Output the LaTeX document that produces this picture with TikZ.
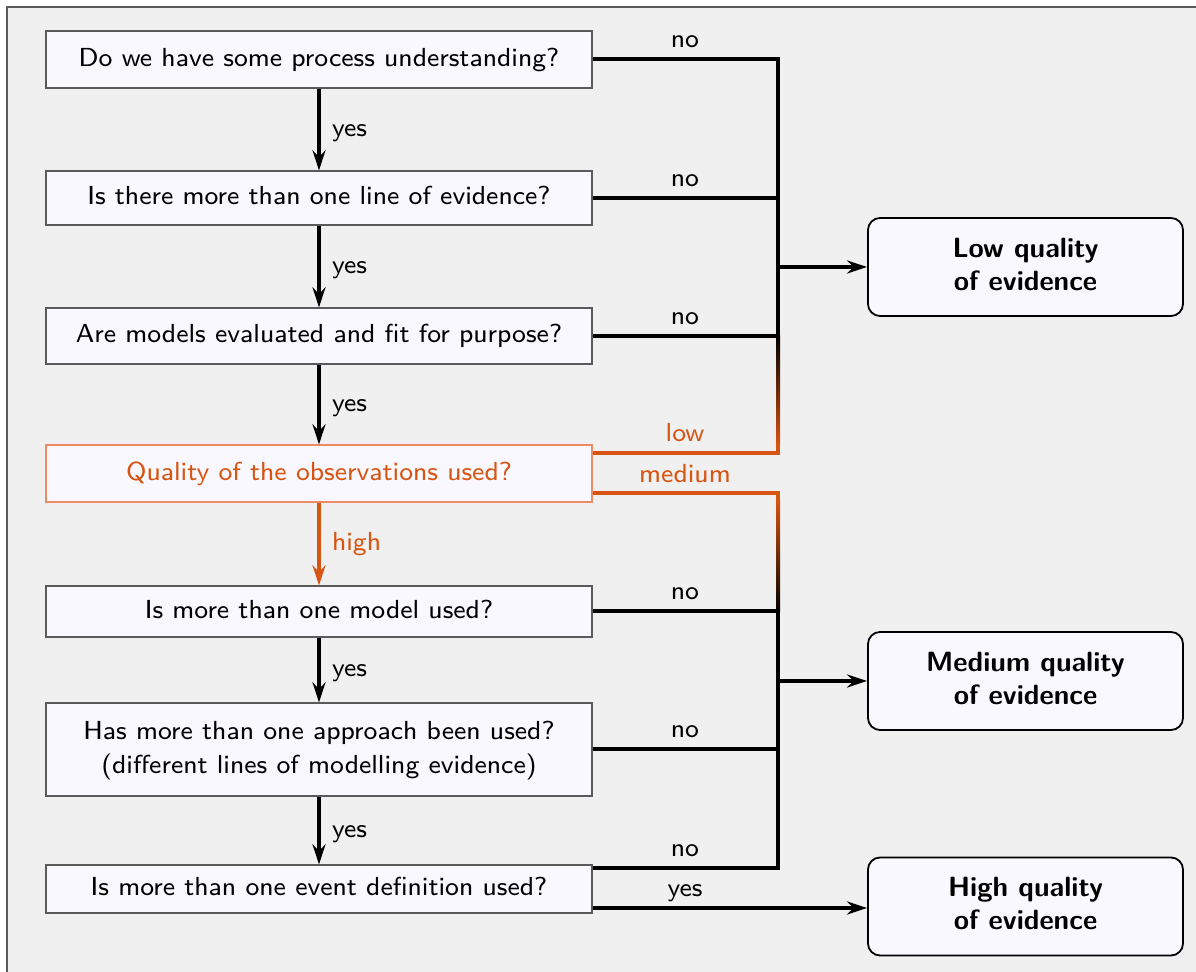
\documentclass[tikz,border=0pt]{standalone}
\usetikzlibrary{arrows.meta}
\usepackage{graphicx}
\definecolor{bg}{RGB}{240,240,240}
\definecolor{boxfill}{RGB}{248,248,254}
\definecolor{frame}{RGB}{90,90,90}
\definecolor{org}{RGB}{216,84,18}
\definecolor{orgline}{RGB}{236,140,100}
\newcommand{\tx}[1]{\scalebox{1.63}{\begin{tabular}{@{}c@{}}#1\end{tabular}}}
\newcommand{\tb}[1]{\scalebox{1.74}{\begin{tabular}{@{}c@{}}#1\end{tabular}}}
\tikzset{
  qbox/.style={draw=frame, line width=0.6pt, fill=boxfill, minimum width=273pt, inner sep=0pt,
    font=\sffamily\fontsize{8}{10.7}\selectfont, align=center},
  rbox/.style={draw=black, line width=0.9pt, fill=boxfill, rounded corners=6pt, minimum width=157.5pt,
    minimum height=49pt, inner sep=0pt, font=\sffamily\bfseries\fontsize{8}{9.5}\selectfont, align=center},
  flow/.style={line width=2pt},
  arr/.style={line width=2pt, -{Stealth[length=10pt,width=6.5pt]}},
  lbl/.style={font=\sffamily\fontsize{8}{10}\selectfont, inner sep=0pt},
}
\begin{document}
\begin{tikzpicture}[x=0.5pt,y=-0.5pt]
\useasboundingbox (0,0) rectangle (1196,972);
\clip (0,0) rectangle (1196,972);
\fill[white] (0,0) rectangle (1196,972);
\draw[frame, line width=0.8pt, fill=bg] (7,7) rectangle (1230,1000);

% question boxes
\node[qbox, minimum height=28.5pt] (b1) at (319,59.5) {\tx{Do we have some process understanding?}};
\node[qbox, minimum height=27pt] (b2) at (319,198) {\tx{Is there more than one line of evidence?}};
\node[qbox, minimum height=28pt] (b3) at (319,336) {\tx{Are models evaluated and fit for purpose?}};
\node[qbox, minimum height=28.5pt, draw=orgline, text=org] (b4) at (319,473.5) {\tx{Quality of the observations used?}};
\node[qbox, minimum height=25.5pt] (b5) at (319,611.5) {\tx{Is more than one model used?}};
\node[qbox, minimum height=46.5pt] (b6) at (319,749.5) {\tx{Has more than one approach been used?\\(different lines of modelling evidence)}};
\node[qbox, minimum height=24pt] (b7) at (319,889) {\tx{Is more than one event definition used?}};

% result boxes
\node[rbox] (low) at (1025.5,267) {\tb{Low quality\\of evidence}};
\node[rbox] (med) at (1025.5,681) {\tb{Medium quality\\of evidence}};
\node[rbox] (high) at (1025.5,906.5) {\tb{High quality\\of evidence}};

% bus coordinates
\coordinate (j1) at (778,59.5);
\coordinate (j2) at (778,198);
\coordinate (j3) at (778,336);
\coordinate (jl) at (778,453);
\coordinate (jm) at (778,493);
\coordinate (j5) at (778,611.5);
\coordinate (j6) at (778,749.5);
\coordinate (j7) at (778,868);
\coordinate (jlow) at (778,267);
\coordinate (jmed) at (778,681);

% vertical yes arrows
\draw[arr] (b1) -- (b2) node[lbl, midway, right=5.5pt] {\tx{yes}};
\draw[arr] (b2) -- (b3) node[lbl, midway, right=5.5pt] {\tx{yes}};
\draw[arr] (b3) -- (b4) node[lbl, midway, right=5.5pt] {\tx{yes}};
\draw[arr, org] (b4) -- (b5) node[lbl, midway, right=5.5pt, text=org] {\tx{high}};
\draw[arr] (b5) -- (b6) node[lbl, midway, right=5.5pt] {\tx{yes}};
\draw[arr] (b6) -- (b7) node[lbl, midway, right=5.5pt] {\tx{yes}};

% upper bus (to low quality)
\draw[flow] (b1.east |- j1) -- (j1) -- (j3) -- (b3.east |- j3);
\draw[flow] (b2.east |- j2) -- (j2);
\node[lbl, anchor=base] at (685,48) {\tx{no}};
\node[lbl, anchor=base] at (685,187) {\tx{no}};
\node[lbl, anchor=base] at (685,325) {\tx{no}};
\draw[arr] (jlow) -- (low.west);

% gradient segments
\shade[top color=black, bottom color=org] (776,336) rectangle (780,445);
\draw[flow, org] (b4.east |- jl) -- (jl) -- (778,443);
\node[lbl, anchor=base, text=org] at (685,442) {\tx{low}};

\draw[flow, org] (b4.east |- jm) -- (jm) -- (778,503);
\shade[top color=org, bottom color=black] (776,501) rectangle (780,611.5);
\node[lbl, anchor=base, text=org] at (685,483) {\tx{medium}};

% lower bus (to medium quality)
\draw[flow] (b5.east |- j5) -- (j5) -- (j7) -- (b7.east |- j7);
\draw[flow] (b6.east |- j6) -- (j6);
\node[lbl, anchor=base] at (685,600) {\tx{no}};
\node[lbl, anchor=base] at (685,738) {\tx{no}};
\node[lbl, anchor=base] at (685,857) {\tx{no}};
\draw[arr] (jmed) -- (med.west);

% yes to high
\draw[arr] (b7.east |- 0,908) -- (high.west |- 0,908);
\node[lbl, anchor=base] at (685,897) {\tx{yes}};
\end{tikzpicture}
\end{document}
